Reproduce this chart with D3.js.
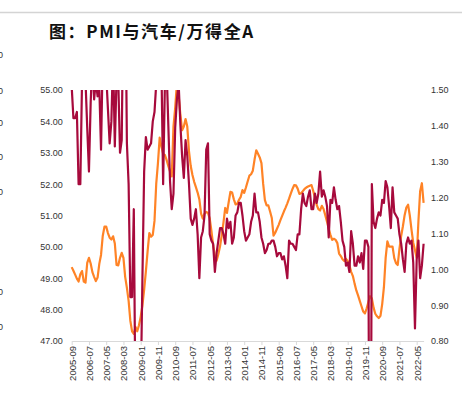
<!DOCTYPE html>
<html>
<head>
<meta charset="utf-8">
<script src="https://cdn.jsdelivr.net/npm/d3@7"></script>
<style>
  body { margin: 0; background: #fff; }
  text { font-family: "Liberation Sans", Arial, sans-serif; }
</style>
</head>
<body>
<script>
// ------------------------------- Data ---------------------------------------
// monthly, 2005-09 .. 2022-09
var startYear = 2005, startMonth = 9, count = 205;

var months = [];
for (var k = 0; k < count; k++) {
  var m = startMonth - 1 + k;
  var yy = startYear + Math.floor(m / 12), mm = (m % 12) + 1;
  months.push(yy + "-" + (mm < 10 ? "0" + mm : mm));
}

var tickLabels = ["2005-09", "2006-07", "2007-05", "2008-03", "2009-01", "2009-11",
  "2010-09", "2011-07", "2012-05", "2013-03", "2014-01", "2014-11", "2015-09",
  "2016-07", "2017-05", "2018-03", "2019-01", "2019-11", "2020-09", "2021-07", "2022-05"];

var leftTicks = [47, 48, 49, 50, 51, 52, 53, 54, 55];
var rightTicks = [0.8, 0.9, 1.0, 1.1, 1.2, 1.3, 1.4, 1.5];

// PMI (left axis)
var pmi = [
  55.1, 54.1, 54.1, 54.3,
  52.0, 52.0, 55.3, 56.7, 55.3, 53.8, 52.4, 54.6, 56.0, 54.7, 55.3, 54.8,
  55.1, 53.1, 56.1, 58.6, 55.5, 54.4, 53.3, 54.0, 56.1, 53.2, 55.4, 55.3,
  53.0, 53.4, 58.4, 59.2, 53.3, 52.0, 48.4, 48.4, 51.2, 44.6, 38.8, 41.2,
  45.3, 49.0, 52.4, 53.5, 53.1, 53.2, 53.3, 54.0, 54.3, 55.2, 55.2, 56.6,
  55.8, 52.0, 55.1, 55.7, 53.9, 52.1, 51.2, 51.7, 53.8, 54.7, 55.2, 53.9,
  52.9, 52.2, 53.4, 52.9, 52.0, 50.9, 50.7, 50.9, 51.2, 50.4, 49.0, 50.3,
  50.5, 51.0, 53.1, 53.3, 50.4, 50.2, 50.1, 49.2, 49.8, 50.2, 50.6, 50.6,
  50.4, 50.1, 50.9, 50.6, 50.8, 50.1, 50.3, 51.0, 51.1, 51.4, 51.4, 51.0,
  50.5, 50.2, 50.3, 50.4, 50.8, 51.0, 51.7, 51.1, 51.1, 50.8, 50.3, 50.1,
  49.8, 49.9, 50.1, 50.1, 50.2, 50.2, 50.0, 49.7, 49.8, 49.8, 49.6, 49.7,
  49.4, 49.0, 50.2, 50.1, 50.1, 50.0, 49.9, 50.4, 50.4, 51.2, 51.7, 51.4,
  51.3, 51.6, 51.8, 51.2, 51.2, 51.7, 51.4, 51.7, 52.4, 51.6, 51.8, 51.6,
  51.3, 50.3, 51.5, 51.4, 51.9, 51.5, 51.2, 51.3, 50.8, 50.2, 50.0, 49.4,
  49.5, 49.2, 50.5, 50.1, 49.4, 49.4, 49.7, 49.5, 49.8, 49.3, 50.2, 50.2,
  50.0, 35.7, 52.0, 50.8, 50.6, 50.9, 51.1, 51.0, 51.5, 51.4, 52.1, 51.9,
  51.3, 50.6, 51.9, 51.1, 51.0, 50.9, 50.4, 50.1, 49.6, 49.2, 50.1, 50.3,
  50.1, 50.2, 49.5, 47.4, 49.6, 50.2, 49.0, 49.4, 50.1
];

// Auto / Wind All A (right axis)
var autoRatio = [
  1.006, 0.996, 0.985, 0.974,
  0.966, 0.986, 0.995, 0.966, 0.963, 1.018, 1.032, 1.016, 0.992, 0.979, 0.967, 0.977,
  1.015, 1.040, 1.093, 1.119, 1.119, 1.101, 1.088, 1.083, 1.092, 1.072, 1.012, 1.011,
  1.032, 1.046, 1.032, 0.979, 0.948, 0.912, 0.856, 0.827, 0.820, 0.839, 0.827, 0.844,
  0.868, 0.899, 0.943, 0.994, 1.050, 1.101, 1.091, 1.096, 1.135, 1.238, 1.296, 1.367,
  1.343, 1.322, 1.319, 1.305, 1.288, 1.273, 1.259, 1.398, 1.450, 1.520, 1.484, 1.432,
  1.388, 1.398, 1.419, 1.398, 1.329, 1.288, 1.263, 1.244, 1.229, 1.214, 1.195, 1.155,
  1.141, 1.155, 1.160, 1.157, 1.142, 1.107, 1.067, 1.038, 1.024, 1.042, 1.064, 1.096,
  1.131, 1.171, 1.157, 1.187, 1.216, 1.214, 1.195, 1.181, 1.183, 1.194, 1.202, 1.221,
  1.213, 1.228, 1.245, 1.261, 1.265, 1.275, 1.306, 1.332, 1.322, 1.312, 1.296, 1.238,
  1.193, 1.178, 1.178, 1.161, 1.143, 1.094, 1.102, 1.113, 1.124, 1.137, 1.149, 1.161,
  1.172, 1.184, 1.197, 1.211, 1.224, 1.235, 1.234, 1.225, 1.210, 1.212, 1.218, 1.224,
  1.228, 1.231, 1.233, 1.235, 1.219, 1.199, 1.180, 1.168, 1.164, 1.177, 1.168, 1.151,
  1.133, 1.113, 1.096, 1.082, 1.085, 1.082, 1.073, 1.044, 1.037, 1.028, 1.023, 1.029,
  1.023, 1.011, 0.993, 0.981, 0.960, 0.941, 0.927, 0.912, 0.897, 0.882, 0.877, 0.891,
  0.909, 0.925, 0.919, 0.893, 0.876, 0.869, 0.864, 0.870, 0.903, 0.950, 1.032, 1.078,
  1.063, 1.063, 1.063, 1.031, 1.017, 1.012, 1.057, 1.093, 1.120, 1.151, 1.172, 1.180,
  1.150, 1.110, 1.074, 1.053, 1.032, 1.134, 1.218, 1.240, 1.185
];

// ------------------------------- Sketch -------------------------------------
var width = 462, height = 399;
var plotTop = 90, plotBottom = 341, plotLeft = 71.7;

var svg = d3.select("body").append("svg")
  .attr("width", width)
  .attr("height", height)
  .style("background", "white");

// thin rule under the cut-off heading above
svg.append("line")
  .attr("x1", 0).attr("x2", width)
  .attr("y1", 12.5).attr("y2", 12.5)
  .attr("stroke", "#d4d4d4").attr("stroke-width", 1.5);

svg.append("text")
  .attr("x", 49).attr("y", 37.5)
  .style("font-family", "'Noto Sans CJK SC', sans-serif")
  .style("font-weight", "bold")
  .style("font-size", "17px")
  .style("letter-spacing", "1.6px")
  .attr("fill", "#111")
  .text("图：PMI与汽车/万得全A");

// fragments of the neighbouring chart's axis on the left edge
[55, 91, 123, 157, 192, 292, 327].forEach(function(v) {
  svg.append("text").attr("x", -2).attr("y", v + 3)
    .style("font-size", "9px").attr("fill", "#333").text("0");
});

var x = d3.scaleLinear().domain([0, count - 1]).range([plotLeft, plotLeft + (count - 1) * 1.725]);
var yL = d3.scaleLinear().domain([47, 55]).range([plotBottom, plotTop]);
var yR = d3.scaleLinear().domain([0.8, 1.5]).range([plotBottom, plotTop]);

svg.append("defs").append("clipPath").attr("id", "plot")
  .append("rect")
  .attr("x", plotLeft - 2).attr("y", plotTop)
  .attr("width", x.range()[1] - plotLeft + 6).attr("height", plotBottom - plotTop);

// x axis
var xAxis = svg.append("g")
  .attr("transform", "translate(0," + plotBottom + ")")
  .call(d3.axisBottom(x)
    .tickValues(tickLabels.map(function(t) { return months.indexOf(t); }))
    .tickFormat(function(i) { return months[i]; })
    .tickSize(4)
    .tickSizeOuter(0));
xAxis.select(".domain").attr("stroke", "#d9d9d9");
xAxis.selectAll(".tick line").attr("stroke", "#d9d9d9");
xAxis.selectAll(".tick text")
  .attr("transform", "rotate(-90)")
  .attr("x", -5).attr("y", 0).attr("dy", "0.35em")
  .style("text-anchor", "end")
  .style("font-size", "9.5px")
  .attr("fill", "#333");

// left axis
var lAxis = svg.append("g")
  .attr("transform", "translate(" + (plotLeft - 6) + ",0)")
  .call(d3.axisLeft(yL).tickValues(leftTicks).tickFormat(d3.format(".2f")).tickSize(0));
lAxis.select(".domain").remove();
lAxis.selectAll("text").style("font-size", "9px").attr("fill", "#333");

// right axis
var rAxis = svg.append("g")
  .attr("transform", "translate(431,0)")
  .call(d3.axisRight(yR).tickValues(rightTicks).tickFormat(d3.format(".2f")).tickSize(0).tickPadding(0));
rAxis.select(".domain").remove();
rAxis.selectAll("text").style("font-size", "9px").attr("fill", "#333");

// lines
var plot = svg.append("g").attr("clip-path", "url(#plot)");

plot.append("path")
  .datum(autoRatio)
  .attr("fill", "none")
  .attr("stroke", "#ff8326")
  .attr("stroke-width", 2.2)
  .attr("stroke-linejoin", "round")
  .attr("d", d3.line().x(function(d, i) { return x(i); }).y(function(d) { return yR(d); }));

plot.append("path")
  .datum(pmi)
  .attr("fill", "none")
  .attr("stroke", "#a70a3c")
  .attr("stroke-width", 2.2)
  .attr("stroke-linejoin", "round")
  .attr("d", d3.line().x(function(d, i) { return x(i); }).y(function(d) { return yL(d); }));
</script>
</body>
</html>
